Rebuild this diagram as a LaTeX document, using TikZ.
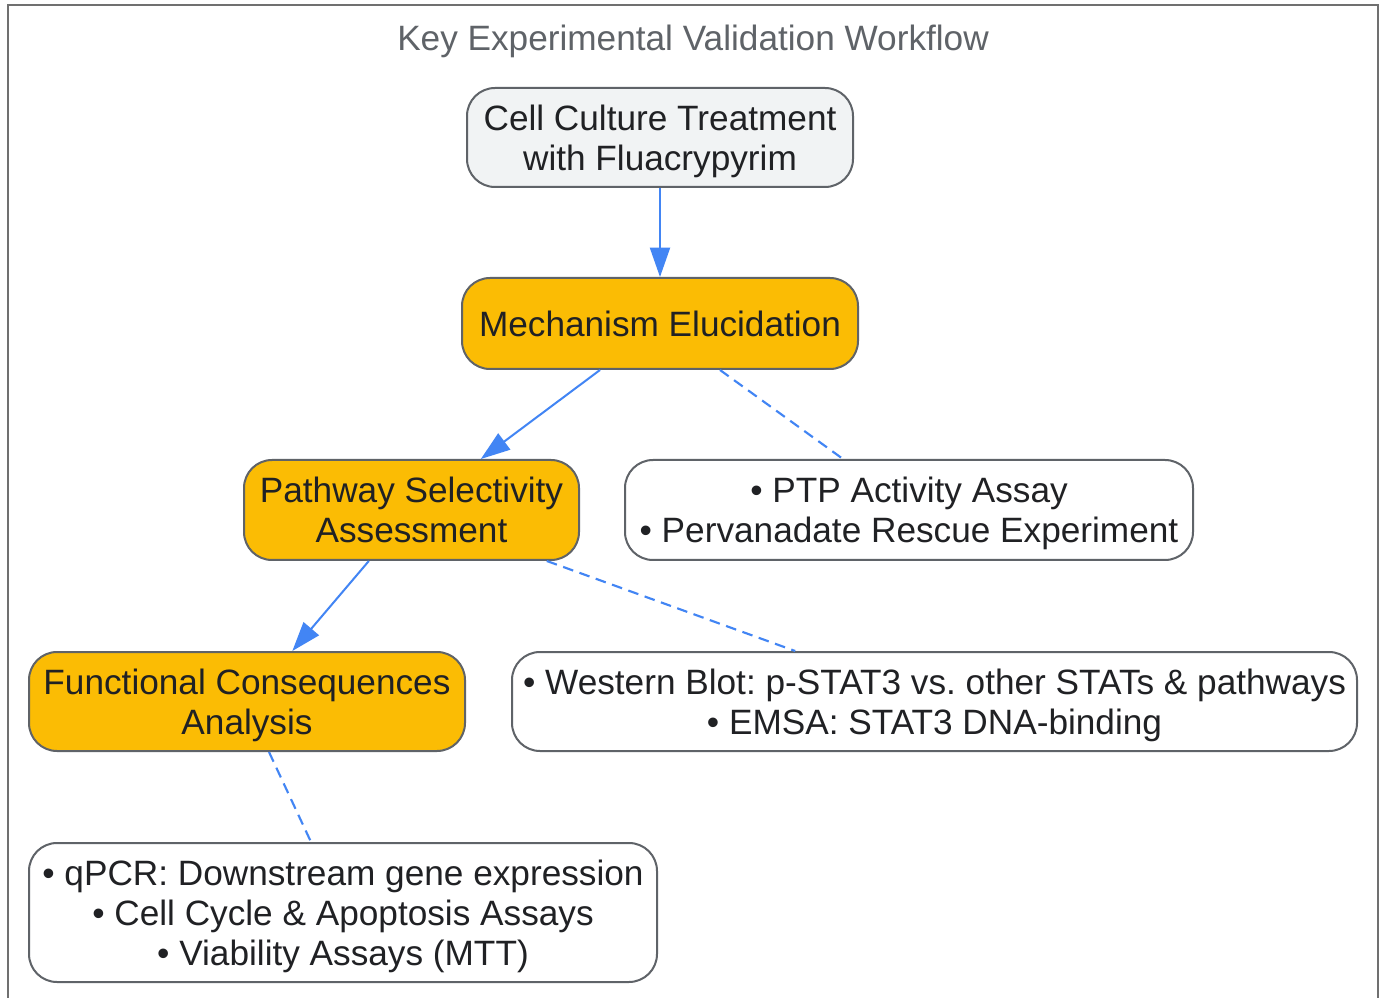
\documentclass[tikz,border=0pt]{standalone}
\usepackage{fontspec}
\setmainfont{Liberation Sans}
\usetikzlibrary{arrows.meta,calc}
\definecolor{edgeblue}{HTML}{4285F4}
\definecolor{boxline}{HTML}{5F6368}
\definecolor{gold}{HTML}{FBBC04}
\definecolor{lightfill}{HTML}{F1F3F4}
\definecolor{txt}{HTML}{202124}
\definecolor{framegray}{HTML}{707070}
\frenchspacing
\tikzset{
  x=0.75pt, y=-0.75pt,
  box/.style={draw=boxline, line width=1.5pt, rounded corners=21pt, align=center,
    inner sep=0pt, text=txt, text depth=0pt, font=\fontsize{26.4}{30}\selectfont\frenchspacing},
  goldbox/.style={box, fill=gold},
  greybox/.style={box, fill=lightfill},
  whitebox/.style={box, fill=white},
  flow/.style={draw=edgeblue, line width=1.5pt, -{Triangle[length=22pt,width=15pt]}},
  link/.style={draw=edgeblue, line width=1.6pt, dash pattern=on 8pt off 5pt},
}
\begin{document}
\begin{tikzpicture}
\useasboundingbox (0,0) rectangle (1386,998);
\clip (0,0) rectangle (1386,998);
\fill[white] (0,0) rectangle (1386,998);
\draw[framegray, line width=2.2pt] (8,5) rectangle (1378,1020);
\node[text=boxline, font=\fontsize{26.4}{30}\selectfont] (title) at (693,41) {Key Experimental Validation Workflow};

\node[greybox, minimum width=289.5pt, minimum height=74.25pt] (cell) at (660,137.5) {Cell Culture Treatment\\with Fluacrypyrim};
\node[goldbox, minimum width=297pt, minimum height=68.25pt] (mech) at (660,323.5) {Mechanism Elucidation};
\node[goldbox, minimum width=251.25pt, minimum height=75pt] (path) at (411.5,510) {Pathway Selectivity\\Assessment};
\node[whitebox, minimum width=426pt, minimum height=75pt] (ptp) at (909,510) {• PTP Activity Assay\\• Pervanadate Rescue Experiment};
\node[goldbox, minimum width=327pt, minimum height=74.25pt] (func) at (247,701.5) {Functional Consequences\\Analysis};
\node[whitebox, minimum width=633.75pt, minimum height=74.25pt] (west) at (934.5,701.5) {• Western Blot: p-STAT3 vs. other STATs \& pathways\\• EMSA: STAT3 DNA-binding};
\node[whitebox, minimum width=471pt, minimum height=104.25pt] (qpcr) at (343,912.5) {• qPCR: Downstream gene expression\\• Cell Cycle \& Apoptosis Assays\\• Viability Assays (MTT)};

\draw[flow] (cell.south) -- (mech.north);
\draw[flow] ([xshift=-45pt]mech.south) -- ([xshift=52pt]path.north);
\draw[link] ([xshift=45pt]mech.south) -- ([xshift=-49.5pt]ptp.north);
\draw[flow] ([xshift=-32pt]path.south) -- ([xshift=34pt]func.north);
\draw[link] ([xshift=101.5pt]path.south) -- ([xshift=-104.5pt]west.north);
\draw[link] ([xshift=16.5pt]func.south) -- ([xshift=-24pt]qpcr.north);
\end{tikzpicture}
\end{document}
